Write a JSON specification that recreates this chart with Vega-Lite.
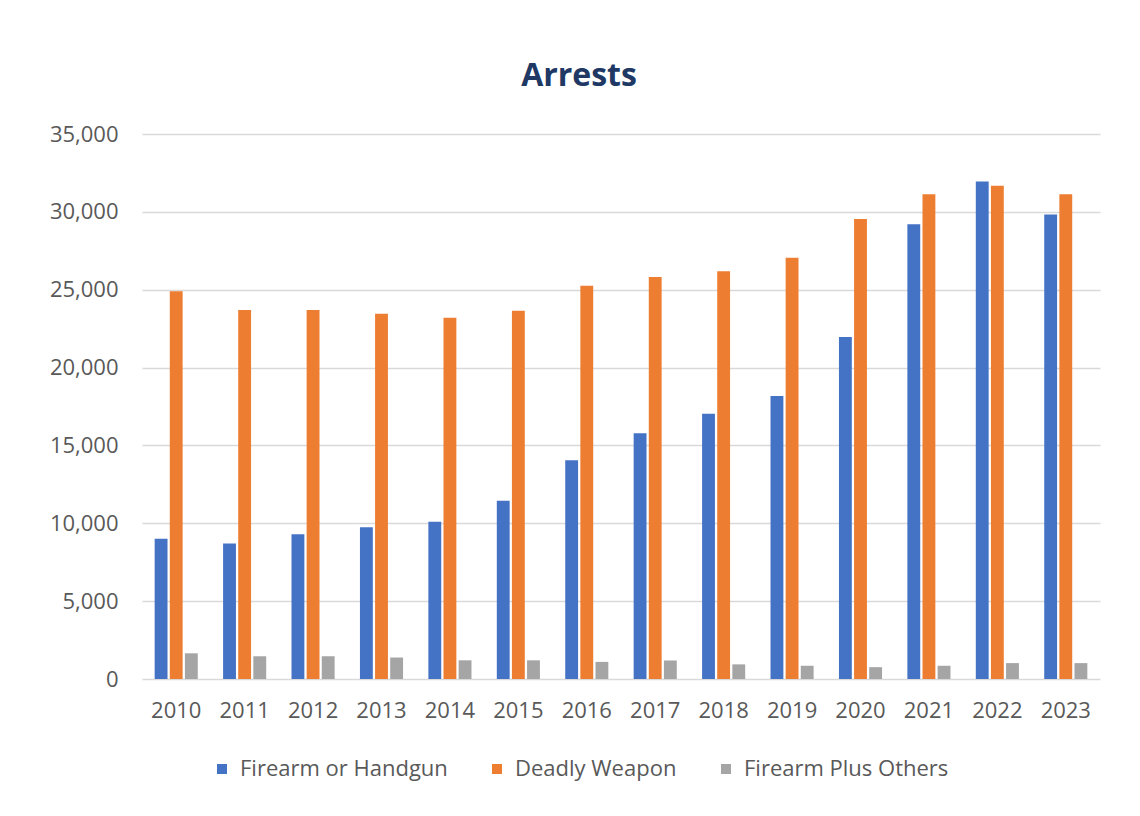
{
  "$schema": "https://vega.github.io/schema/vega-lite/v6.json",
  "autosize": {"type": "none"},
  "padding": {"left": 142, "top": 134, "right": 40, "bottom": 137},
  "width": 958,
  "height": 545,
  "background": "#ffffff",
  "title": {
    "text": "Arrests",
    "anchor": "middle",
    "frame": "group",
    "dx": -42,
    "offset": 30,
    "font": "Open Sans",
    "fontSize": 32,
    "fontWeight": "bold",
    "color": "#203864"
  },
  "data": {
    "values": [
      {"year": "2010", "series": "Firearm or Handgun", "value": 9000},
      {"year": "2010", "series": "Deadly Weapon", "value": 24900},
      {"year": "2010", "series": "Firearm Plus Others", "value": 1650},
      {"year": "2011", "series": "Firearm or Handgun", "value": 8700},
      {"year": "2011", "series": "Deadly Weapon", "value": 23700},
      {"year": "2011", "series": "Firearm Plus Others", "value": 1460},
      {"year": "2012", "series": "Firearm or Handgun", "value": 9300},
      {"year": "2012", "series": "Deadly Weapon", "value": 23700},
      {"year": "2012", "series": "Firearm Plus Others", "value": 1460},
      {"year": "2013", "series": "Firearm or Handgun", "value": 9750},
      {"year": "2013", "series": "Deadly Weapon", "value": 23450},
      {"year": "2013", "series": "Firearm Plus Others", "value": 1380},
      {"year": "2014", "series": "Firearm or Handgun", "value": 10100},
      {"year": "2014", "series": "Deadly Weapon", "value": 23200},
      {"year": "2014", "series": "Firearm Plus Others", "value": 1200},
      {"year": "2015", "series": "Firearm or Handgun", "value": 11450},
      {"year": "2015", "series": "Deadly Weapon", "value": 23650},
      {"year": "2015", "series": "Firearm Plus Others", "value": 1200},
      {"year": "2016", "series": "Firearm or Handgun", "value": 14050},
      {"year": "2016", "series": "Deadly Weapon", "value": 25250},
      {"year": "2016", "series": "Firearm Plus Others", "value": 1100},
      {"year": "2017", "series": "Firearm or Handgun", "value": 15780},
      {"year": "2017", "series": "Deadly Weapon", "value": 25820},
      {"year": "2017", "series": "Firearm Plus Others", "value": 1190},
      {"year": "2018", "series": "Firearm or Handgun", "value": 17030},
      {"year": "2018", "series": "Deadly Weapon", "value": 26180},
      {"year": "2018", "series": "Firearm Plus Others", "value": 940},
      {"year": "2019", "series": "Firearm or Handgun", "value": 18180},
      {"year": "2019", "series": "Deadly Weapon", "value": 27050},
      {"year": "2019", "series": "Firearm Plus Others", "value": 850},
      {"year": "2020", "series": "Firearm or Handgun", "value": 21970},
      {"year": "2020", "series": "Deadly Weapon", "value": 29540},
      {"year": "2020", "series": "Firearm Plus Others", "value": 760},
      {"year": "2021", "series": "Firearm or Handgun", "value": 29200},
      {"year": "2021", "series": "Deadly Weapon", "value": 31130},
      {"year": "2021", "series": "Firearm Plus Others", "value": 850},
      {"year": "2022", "series": "Firearm or Handgun", "value": 31950},
      {"year": "2022", "series": "Deadly Weapon", "value": 31670},
      {"year": "2022", "series": "Firearm Plus Others", "value": 1020},
      {"year": "2023", "series": "Firearm or Handgun", "value": 29830},
      {"year": "2023", "series": "Deadly Weapon", "value": 31130},
      {"year": "2023", "series": "Firearm Plus Others", "value": 1020}
    ]
  },
  "mark": {"type": "bar"},
  "encoding": {
    "x": {
      "field": "year",
      "type": "nominal",
      "title": null,
      "scale": {"paddingInner": 0.37, "paddingOuter": 0.185},
      "axis": {
        "labelAngle": 0,
        "ticks": false,
        "domain": false,
        "grid": false,
        "labelFont": "Open Sans",
        "labelFontSize": 22,
        "labelColor": "#595959",
        "labelPadding": 21
      }
    },
    "xOffset": {
      "field": "series",
      "type": "nominal",
      "sort": ["Firearm or Handgun", "Deadly Weapon", "Firearm Plus Others"],
      "scale": {"paddingInner": 0.15, "paddingOuter": 0}
    },
    "y": {
      "field": "value",
      "type": "quantitative",
      "title": null,
      "scale": {"domain": [0, 35000], "nice": false},
      "axis": {
        "values": [0, 5000, 10000, 15000, 20000, 25000, 30000, 35000],
        "format": ",.0f",
        "ticks": false,
        "domain": false,
        "gridColor": "#d9d9d9",
        "gridWidth": 1.5,
        "labelFont": "Open Sans",
        "labelFontSize": 22,
        "labelColor": "#595959",
        "labelPadding": 24
      }
    },
    "color": {
      "field": "series",
      "type": "nominal",
      "sort": ["Firearm or Handgun", "Deadly Weapon", "Firearm Plus Others"],
      "scale": {
        "domain": ["Firearm or Handgun", "Deadly Weapon", "Firearm Plus Others"],
        "range": ["#4472C4", "#ED7D31", "#A5A5A5"]
      },
      "legend": {
        "title": null,
        "orient": "none",
        "direction": "horizontal",
        "legendX": 69,
        "legendY": 624,
        "symbolType": "square",
        "symbolSize": 100,
        "symbolStrokeWidth": 0,
        "labelFont": "Open Sans",
        "labelFontSize": 22,
        "labelLimit": 400,
        "labelColor": "#595959",
        "labelOffset": 7,
        "columnPadding": 38
      }
    }
  },
  "config": {
    "view": {"stroke": null}
  }
}
